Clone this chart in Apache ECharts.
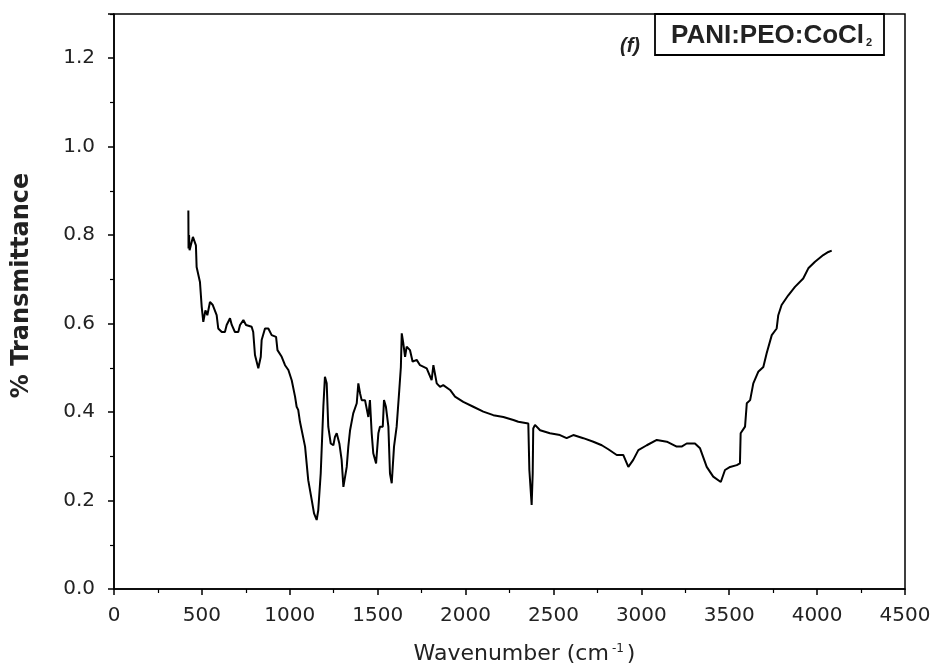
<!DOCTYPE html>
<html>
<head>
<meta charset="utf-8">
<script src="https://cdn.jsdelivr.net/npm/echarts@6/dist/echarts.min.js"></script>
<style>
  html, body { margin: 0; padding: 0; background: #fff; }
  #main { width: 936px; height: 669px; }
</style>
</head>
<body>
<div id="main"></div>
<script>
// FTIR spectrum
const wavenumber = [
  423, 424, 427, 430, 449, 466, 470, 489, 499, 508, 520, 531, 546, 562, 584, 593, 613, 631, 641, 660,
  670, 688, 707, 717, 736, 751, 783, 792, 802, 821, 835, 840, 859, 878, 897, 922, 930, 954, 973, 992,
  1011, 1030, 1039, 1048, 1058, 1068, 1087, 1105, 1125, 1138, 1153, 1162, 1176, 1191, 1200, 1210, 1219, 1233, 1248, 1257,
  1267, 1282, 1295, 1305, 1314, 1324, 1333, 1343, 1361, 1381, 1390, 1400, 1409, 1428, 1447, 1456, 1466, 1475, 1491, 1504,
  1513, 1529, 1536, 1547, 1561, 1570, 1580, 1593, 1608, 1623, 1632, 1637, 1646, 1656, 1665, 1684, 1699, 1722, 1741, 1779,
  1807, 1817, 1836, 1855, 1873, 1912, 1940, 1987, 2044, 2101, 2158, 2215, 2272, 2300, 2357, 2363, 2376, 2382, 2385, 2395,
  2424, 2480, 2537, 2575, 2613, 2670, 2727, 2775, 2812, 2860, 2897, 2926, 2954, 2983, 3031, 3088, 3145, 3201, 3229, 3258,
  3305, 3334, 3372, 3409, 3452, 3476, 3505, 3543, 3561, 3565, 3590, 3600, 3619, 3637, 3665, 3694, 3713, 3742, 3770, 3779,
  3798, 3836, 3874, 3921, 3950, 3988, 4035, 4064, 4083
];
const transmittance = [
  0.856, 0.77, 0.80, 0.766, 0.796, 0.777, 0.728, 0.694, 0.638, 0.604, 0.63, 0.619, 0.649, 0.642, 0.619, 0.589, 0.581, 0.581, 0.597, 0.612,
  0.597, 0.581, 0.581, 0.597, 0.608, 0.597, 0.593, 0.581, 0.529, 0.499, 0.525, 0.563, 0.589, 0.589, 0.574, 0.570, 0.540, 0.525, 0.506, 0.495,
  0.472, 0.435, 0.412, 0.405, 0.378, 0.374, 0.322, 0.246, 0.201, 0.171, 0.156, 0.178, 0.261, 0.412, 0.480, 0.465, 0.367, 0.329, 0.325, 0.344,
  0.352, 0.329, 0.292, 0.231, 0.231, 0.276, 0.322, 0.359, 0.397, 0.420, 0.465, 0.442, 0.427, 0.427, 0.389, 0.427, 0.352, 0.307, 0.284, 0.352,
  0.367, 0.367, 0.427, 0.412, 0.367, 0.261, 0.239, 0.322, 0.367, 0.450, 0.502, 0.578, 0.555, 0.525, 0.548, 0.540, 0.514, 0.518, 0.506, 0.499,
  0.472, 0.506, 0.465, 0.457, 0.461, 0.450, 0.435, 0.423, 0.412, 0.401, 0.393, 0.389, 0.382, 0.378, 0.374, 0.269, 0.190, 0.261, 0.363, 0.371,
  0.359, 0.352, 0.348, 0.341, 0.348, 0.341, 0.333, 0.325, 0.316, 0.303, 0.303, 0.276, 0.292, 0.314, 0.325, 0.337, 0.333, 0.322, 0.322, 0.329,
  0.329, 0.318, 0.276, 0.254, 0.242, 0.269, 0.276, 0.280, 0.284, 0.352, 0.367, 0.420, 0.427, 0.465, 0.491, 0.502, 0.533, 0.574, 0.589, 0.619,
  0.642, 0.664, 0.683, 0.702, 0.725, 0.740, 0.755, 0.762, 0.765
];
const sampleName = 'PANI:PEO:CoCl';
const panelTag = '(f)';

var chartDom = document.getElementById('main');
var myChart = echarts.init(chartDom);
var sans = '"Liberation Sans", Arial, sans-serif';
var wide = '"DejaVu Sans", sans-serif';

var option = {
    animation: false,
    backgroundColor: '#fff',
    grid: {
        left: 114,
        right: 31,
        top: 14,
        bottom: 80,
        outerBoundsMode: 'none',
        show: true,
        borderColor: '#000',
        borderWidth: 1.5
    },
    title: [
        {
            text: '{a|' + sampleName + '}{s|2}',
            left: 655,
            top: 12,
            padding: [9, 12, 6, 16],
            borderColor: '#000',
            borderWidth: 1.8,
            textStyle: {
                rich: {
                    a: { fontFamily: sans, fontSize: 26, fontWeight: 'bold', color: '#222', lineHeight: 30 },
                    s: { fontFamily: sans, fontSize: 11, fontWeight: 'bold', color: '#222', padding: [14, 0, 0, 2] }
                }
            }
        },
        {
            text: panelTag,
            left: 615,
            top: 31,
            textStyle: { fontFamily: sans, fontSize: 20, fontWeight: 'bold', fontStyle: 'italic', color: '#222' }
        }
    ],
    xAxis: {
        type: 'value',
        min: 0,
        max: 4500,
        interval: 500,
        name: '{a|Wavenumber (cm}{s|-1}{a|)}',
        nameLocation: 'middle',
        nameGap: 54,
        nameTextStyle: {
            padding: [0, 0, 0, 30],
            rich: {
                a: { fontFamily: wide, fontSize: 22, color: '#222' },
                s: { fontFamily: wide, fontSize: 12, color: '#222', padding: [0, 3, 11, 3] }
            }
        },
        axisLine: { onZero: false, lineStyle: { color: '#000', width: 1.5 } },
        axisTick: { length: 6, lineStyle: { color: '#000', width: 1.5 } },
        minorTick: { show: true, splitNumber: 2, length: 4, lineStyle: { color: '#000', width: 1.2 } },
        axisLabel: {
            margin: 17,
            fontFamily: wide,
            fontSize: 20,
            color: '#222',
            formatter: function (v) { return String(v); }
        },
        splitLine: { show: false }
    },
    yAxis: {
        type: 'value',
        min: 0,
        max: 1.3,
        interval: 0.2,
        name: '% Transmittance',
        nameLocation: 'middle',
        nameGap: 80,
        nameTextStyle: {
            fontFamily: wide,
            fontSize: 24,
            fontWeight: 'bold',
            color: '#222',
            padding: [0, 0, 0, 32]
        },
        axisLine: { onZero: false, lineStyle: { color: '#000', width: 1.5 } },
        axisTick: { length: 6, lineStyle: { color: '#000', width: 1.5 } },
        minorTick: { show: true, splitNumber: 2, length: 4, lineStyle: { color: '#000', width: 1.2 } },
        axisLabel: {
            margin: 19,
            fontFamily: wide,
            fontSize: 20,
            color: '#222',
            showMaxLabel: false,
            formatter: function (v) { return v.toFixed(1); }
        },
        splitLine: { show: false }
    },
    series: [
        {
            type: 'line',
            data: wavenumber.map(function (w, i) { return [w, transmittance[i]]; }),
            showSymbol: false,
            lineStyle: { color: '#000', width: 2 }
        }
    ]
};
myChart.setOption(option);
</script>
</body>
</html>
